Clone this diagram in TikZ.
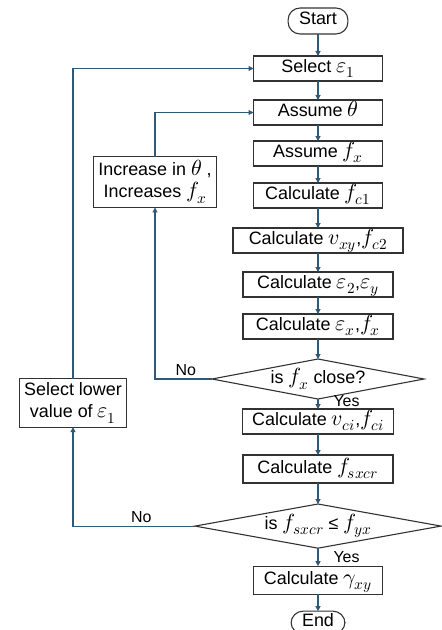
\documentclass[tikz,border=0pt]{standalone}
\usepackage{fontspec}
\usepackage{unicode-math}
\setmainfont{Liberation Sans}
\setmathfont{latinmodern-math.otf}[Scale=1.22]
\definecolor{flowblue}{RGB}{47, 89, 117}
\definecolor{boxgray}{RGB}{50, 50, 50}
\usetikzlibrary{arrows.meta, positioning, shapes.geometric}
\tikzset{
	proc/.style={rectangle, draw=boxgray, line width=1.1bp, outer sep=0pt, align=center, minimum width=129bp, minimum height=25bp, text height=13bp, text depth=5bp, inner xsep=10bp, inner ysep=3bp, font=\fontsize{18}{22}\selectfont},
	term/.style={proc, rounded corners=12bp, minimum width=0bp, inner xsep=11bp},
	sidebox/.style={rectangle, draw=boxgray, line width=1.1bp, outer sep=0pt, align=center, inner xsep=5bp, inner ysep=4bp, font=\fontsize{18}{22}\selectfont},
	decision/.style={diamond, draw=boxgray, line width=1.1bp, outer sep=0pt, aspect=5.3, inner sep=0pt, minimum height=40bp, font=\fontsize{18}{22}\selectfont},
	lbl/.style={font=\fontsize{16}{19}\selectfont, inner sep=1bp},
	arrow/.style={-{Triangle[length=5bp, width=5bp]}, line width=1.1bp, draw=flowblue},
}
\begin{document}
\begin{tikzpicture}[x=1bp, y=1bp, node distance=18bp]
		\useasboundingbox (0,0) rectangle (442,-630);
		\node[term, minimum height=26bp] (start) at (318,-21) {Start};
		\node[proc, below=22bp of start] (sel) {Select $\varepsilon_1$};
		\node[proc, below=19bp of sel] (asmt) {Assume $\theta$};
		\node[proc, below=16bp of asmt] (asmf) {Assume $f_x$};
		\node[proc, below=17bp of asmf] (fcone) {Calculate $f_{c1}$};
		\node[proc, minimum width=170bp, below=20bp of fcone] (vxy) {Calculate $v_{xy}$,$f_{c2}$};
		\node[proc, minimum width=150bp, below=19bp of vxy] (epstwo) {Calculate $\varepsilon_2$,$\varepsilon_y$};
		\node[proc, minimum width=150bp, below=17bp of epstwo] (epsx) {Calculate $\varepsilon_x$,$f_x$};
		\node[decision, minimum width=212bp, below=20bp of epsx] (close) {is $f_x$ close?};
		\node[proc, below=10bp of close] (vci) {Calculate $v_{ci}$,$f_{ci}$};
		\node[proc, minimum width=150bp, minimum height=28bp, below=21bp of vci] (fsx) {Calculate $f_{sxcr}$};
		\node[decision, minimum width=246bp, below=21bp of fsx] (check) {is $f_{sxcr}$ ≤ $f_{yx}$};
		\node[proc, minimum height=28bp, below=18bp of check] (gam) {Calculate $\gamma_{xy}$};
		\node[term, minimum height=23bp, text height=12bp, text depth=4bp, inner ysep=2bp, below=17bp of gam] (end) {End};
		\node[sidebox] (inc) at (155,-182) {Increase in $\theta$ ,\\Increases $f_x$};
		\node[sidebox] (lower) at (73,-403) {Select lower\\value of $\varepsilon_1$};
		% main column
		\draw[arrow] (start) -- (sel);
		\draw[arrow] (sel) -- (asmt);
		\draw[arrow] (asmt) -- (asmf);
		\draw[arrow] (asmf) -- (fcone);
		\draw[arrow] (fcone) -- (vxy);
		\draw[arrow] (vxy) -- (epstwo);
		\draw[arrow] (epstwo) -- (epsx);
		\draw[arrow] (epsx) -- (close);
		\draw[arrow] (close) -- node[lbl, right=14bp, yshift=3bp] {Yes} (vci);
		\draw[arrow] (vci) -- (fsx);
		\draw[arrow] (fsx) -- (check);
		\draw[arrow] (check) -- node[lbl, right=14bp] {Yes} (gam);
		\draw[arrow] (gam) -- (end);
		% loops
		\draw[arrow] (close.west) -| node[lbl, pos=0.23, above=2bp] {No} (inc.south);
		\draw[arrow] (inc.north) |- (asmt.west);
		\draw[arrow] (check.west) -| node[lbl, pos=0.22, above=2bp] {No} (lower.south);
		\draw[arrow] (lower.north) |- (sel.west);
	\end{tikzpicture}
\end{document}
